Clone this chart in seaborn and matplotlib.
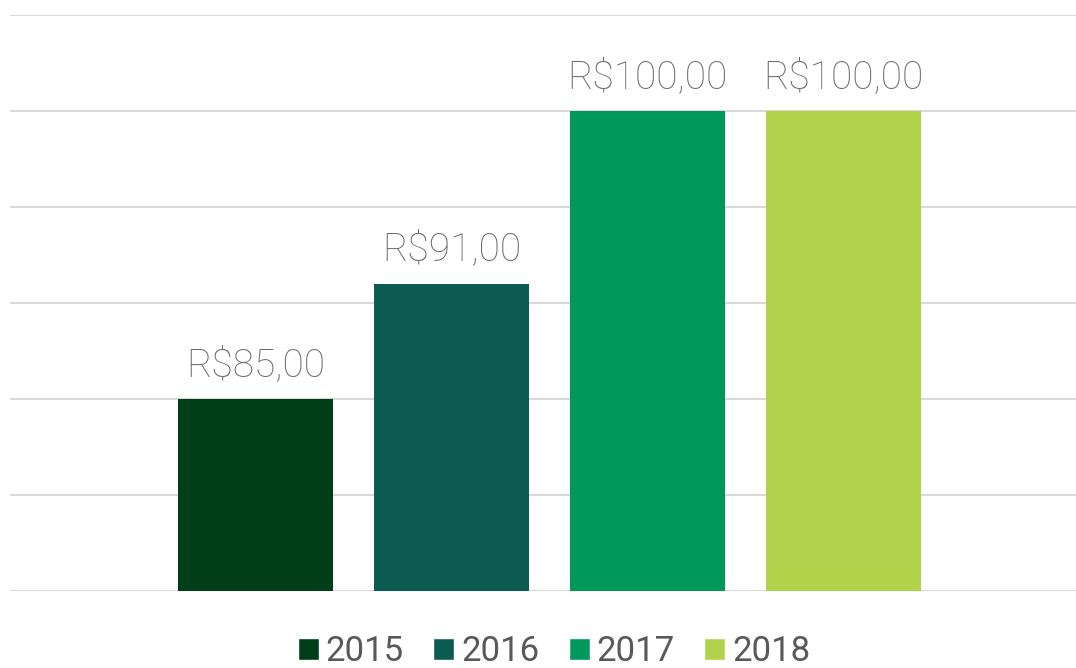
import pandas as pd
import matplotlib.pyplot as plt
import seaborn as sns
from matplotlib.patches import Patch

years = ['2015', '2016', '2017', '2018']
values = [85, 91, 100, 100]
colors = ['#003d19', '#0d5c54', '#00985b', '#b2d24b']

df = pd.DataFrame({'year': years, 'value': values})

sns.set_style('white')
plt.rcParams['font.family'] = ['Roboto', 'DejaVu Sans']

fig = plt.figure(figsize=(10.76, 6.68), dpi=100)
ax = fig.add_axes([10 / 1076, 77 / 668, 1066 / 1076, 576 / 668])

sns.barplot(data=df, x='year', y='value', hue='year', palette=dict(zip(years, colors)),
            width=0.79, legend=False, ax=ax, saturation=1, linewidth=0)

ax.set_ylim(75, 105)
ax.set_yticks([75, 80, 85, 90, 95, 100, 105])
ax.set_xlim(-1.2526, 4.186)
ax.yaxis.grid(True, color='#d9d9d9', linewidth=1.5)
ax.set_axisbelow(True)
for s in ax.spines.values():
    s.set_visible(False)
ax.tick_params(left=False, bottom=False, labelleft=False, labelbottom=False)
ax.set_xlabel('')
ax.set_ylabel('')

for cont in ax.containers:
    ax.bar_label(cont, labels=[f'R${v:.2f}'.replace('.', ',') for v in cont.datavalues],
                 padding=11, fontsize=28, color='#6b6b73', fontweight='light')

handles = [Patch(facecolor=c, label=y) for y, c in zip(years, colors)]
fig.legend(handles=handles, loc='lower center', bbox_to_anchor=(0.515, -0.047), ncol=4,
           frameon=False, fontsize=25, labelcolor='#595959', handlelength=0.6,
           handleheight=0.6, handletextpad=0.2, columnspacing=0.85)

fig.savefig('out.png', dpi=100)
